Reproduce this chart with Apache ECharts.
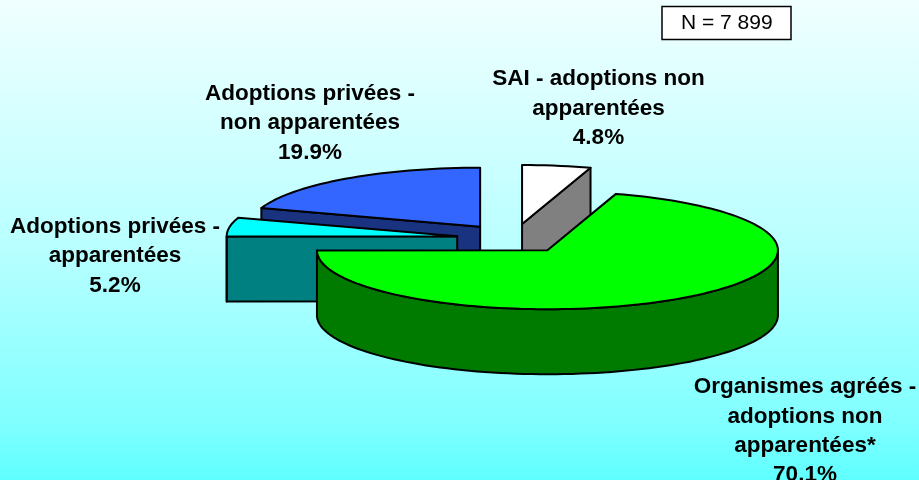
<!DOCTYPE html>
<html>
<head>
<meta charset="utf-8">
<title>Adoptions</title>
<script src="https://cdn.jsdelivr.net/npm/echarts@6/dist/echarts.min.js"></script>
<style>
html, body { margin: 0; padding: 0; }
#main { width: 919px; height: 480px; }
</style>
</head>
<body>
<div id="main"></div>
<script>
// clockwise from 12 o'clock
let names = [
	'SAI - adoptions non\napparentées',
	'Organismes agréés -\nadoptions non\napparentées*',
	'Adoptions privées -\napparentées',
	'Adoptions privées -\nnon apparentées'
];
let values = [4.8, 70.1, 5.2, 19.9];
let note = 'N = 7 899';

let topColors = ['#ffffff', '#00ff00', '#00ffff', '#3366ff'];
let sideColors = ['#808080', '#007b00', '#008080', '#1a3380'];

// pie geometry
let cx = 513.5, cy = 238.5, rx = 230.5, ry = 59, depth = 65, explode = 57;
// centre of each label block
let labelX = [598.5, 805, 115, 310];
let labelY = [108.5, 431, 256, 123];

let total = values.reduce((a, b) => a + b, 0);
let rad = d => d * Math.PI / 180;

// angles in degrees, each slice [start, end]
let angles = [], acc = 0;
values.forEach(v => {
	angles.push([acc, acc + v / total * 360]);
	acc += v / total * 360;
});

function arc(c, from, to) {
	let pts = [], n = Math.max(2, Math.ceil((to - from) / 2));
	for (let i = 0; i <= n; i++) {
		let t = rad(from + (to - from) * i / n);
		pts.push([c[0] + rx * Math.sin(t), c[1] - ry * Math.cos(t)]);
	}
	return pts;
}

let down = pts => pts.map(p => [p[0], p[1] + depth]);
let lineStyle = { stroke: '#000', lineWidth: 2, lineJoin: 'round' };

function renderSlice(params, api) {
	let i = params.dataIndex;
	let [a, b] = angles[i];
	let mid = rad((a + b) / 2);
	let c = [cx + explode * Math.sin(mid), cy - explode * ry / rx * Math.cos(mid)];
	let z = c[1];
	let children = [];

	let poly = (points, fill, z2) => children.push({
		type: 'polygon',
		z2: z2,
		shape: { points: points },
		style: Object.assign({ fill: fill }, lineStyle)
	});

	// cut faces turned towards the viewer
	if (Math.sin(rad(a)) < -0.001) {
		let edge = [c, arc(c, a, a + 0.001)[0]];
		poly(edge.concat(down(edge).reverse()), sideColors[i], z);
	}
	if (Math.sin(rad(b)) > 0.001) {
		let edge = [c, arc(c, b, b + 0.001)[0]];
		poly(edge.concat(down(edge).reverse()), sideColors[i], z);
	}
	// outer wall, front half only
	let from = Math.max(a, 90), to = Math.min(b, 270);
	if (to > from) {
		let rim = arc(c, from, to);
		poly(rim.concat(down(rim).reverse()), sideColors[i], z + 0.1);
	}
	// top face
	poly([c].concat(arc(c, a, b)), topColors[i], z + 0.2);

	children.push({
		type: 'text',
		z2: 1000,
		style: {
			text: names[i] + '\n' + api.value(0).toFixed(1) + '%',
			x: labelX[i],
			y: labelY[i],
			align: 'center',
			verticalAlign: 'middle',
			lineHeight: 29.3,
			font: 'bold 22.5px "Liberation Sans", Arial, sans-serif',
			fill: '#000'
		}
	});
	return { type: 'group', children: children };
}

let myChart = echarts.init(document.getElementById('main'), null, { renderer: 'canvas' });
myChart.setOption({
	animation: false,
	backgroundColor: {
		type: 'linear', x: 0, y: 0, x2: 0, y2: 1,
		colorStops: [
			{ offset: 0, color: '#f0ffff' },
			{ offset: 0.52, color: '#b8ffff' },
			{ offset: 0.88, color: '#80ffff' },
			{ offset: 1, color: '#5fffff' }
		]
	},
	title: {
		text: note,
		left: 662,
		top: 6.5,
		padding: [6, 19, 6, 19],
		backgroundColor: '#fff',
		borderColor: '#000',
		borderWidth: 1.5,
		textStyle: {
			fontFamily: '"Liberation Sans", Arial, sans-serif',
			fontSize: 21,
			fontWeight: 'normal',
			color: '#000',
			lineHeight: 21
		}
	},
	series: [{
		type: 'custom',
		coordinateSystem: 'none',
		renderItem: renderSlice,
		data: values.map((v, i) => ({ name: names[i], value: [v] }))
	}]
});
</script>
</body>
</html>
